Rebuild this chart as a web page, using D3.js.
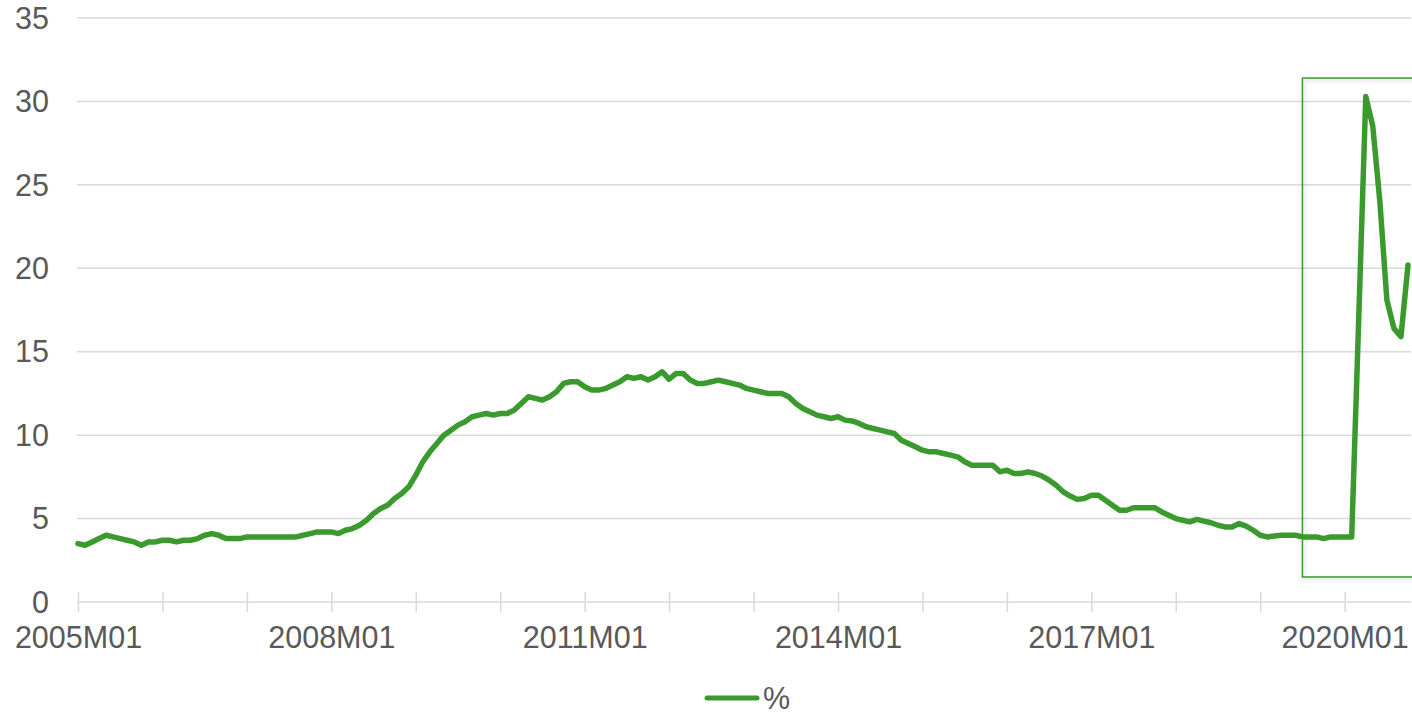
<!DOCTYPE html>
<html lang="en">
<head>
  <meta charset="UTF-8" />
  <title>Rate, 2005M01-2020M10</title>
  <script src="https://cdn.jsdelivr.net/npm/d3@7"></script>
  <style>
    html, body {
      margin: 0;
      padding: 0;
      background: #ffffff;
      overflow: hidden;
    }
    svg {
      display: block;
      font-family: "Liberation Sans", Arial, sans-serif;
    }
  </style>
</head>
<body>
  <script>
    // monthly values, 2005M01 .. 2020M10
    const startYear = 2005;
    const rate = [
      // 2005
      3.5, 3.4, 3.6, 3.8, 4.0, 3.9, 3.8, 3.7, 3.6, 3.4, 3.6, 3.6,
      // 2006
      3.7, 3.7, 3.6, 3.7, 3.7, 3.8, 4.0, 4.1, 4.0, 3.8, 3.8, 3.8,
      // 2007
      3.9, 3.9, 3.9, 3.9, 3.9, 3.9, 3.9, 3.9, 4.0, 4.1, 4.2, 4.2,
      // 2008
      4.2, 4.1, 4.3, 4.4, 4.6, 4.9, 5.3, 5.6, 5.8, 6.2, 6.5, 6.9,
      // 2009
      7.6, 8.4, 9.0, 9.5, 10.0, 10.3, 10.6, 10.8, 11.1, 11.2, 11.3, 11.2,
      // 2010
      11.3, 11.3, 11.5, 11.9, 12.3, 12.2, 12.1, 12.3, 12.6, 13.1, 13.2, 13.2,
      // 2011
      12.9, 12.7, 12.7, 12.8, 13.0, 13.2, 13.5, 13.4, 13.5, 13.3, 13.5, 13.8,
      // 2012
      13.35, 13.7, 13.7, 13.3, 13.1, 13.1, 13.2, 13.3, 13.2, 13.1, 13.0, 12.8,
      // 2013
      12.7, 12.6, 12.5, 12.5, 12.5, 12.3, 11.9, 11.6, 11.4, 11.2, 11.1, 11.0,
      // 2014
      11.1, 10.9, 10.85, 10.7, 10.5, 10.4, 10.3, 10.2, 10.1, 9.7, 9.5, 9.3,
      // 2015
      9.1, 9.0, 9.0, 8.9, 8.8, 8.7, 8.4, 8.2, 8.2, 8.2, 8.2, 7.8,
      // 2016
      7.9, 7.7, 7.7, 7.8, 7.7, 7.55, 7.3, 7.0, 6.6, 6.35, 6.15, 6.2,
      // 2017
      6.4, 6.4, 6.1, 5.8, 5.5, 5.5, 5.65, 5.65, 5.65, 5.65, 5.4, 5.2,
      // 2018
      5.0, 4.9, 4.8, 4.95, 4.85, 4.75, 4.6, 4.5, 4.5, 4.7, 4.55, 4.3,
      // 2019
      4.0, 3.9, 3.95, 4.0, 4.0, 4.0, 3.9, 3.9, 3.9, 3.8, 3.9, 3.9,
      // 2020
      3.9, 3.9, 17.0, 30.3, 28.5, 24.0, 18.1, 16.4, 15.9, 20.2
    ];
    const months = rate.map((_, i) =>
      `${startYear + Math.floor(i / 12)}M${String(i % 12 + 1).padStart(2, "0")}`);

    const yTicks = [0, 5, 10, 15, 20, 25, 30, 35];
    const xTickLabels = ["2005M01", "2008M01", "2011M01", "2014M01", "2017M01", "2020M01"];
    const legendLabel = "%";

    // boxed period at the end of the series
    const boxFrom = "2019M07";
    const boxTop = 31.4;
    const boxBottom = 1.5;

    const width = 1412, height = 714;
    const green = "#3a9a2e";
    const grid = "#d9d9d9";
    const textColor = "#595959";
    const fontSize = 30.5;

    const svg = d3.select("body").append("svg")
      .attr("width", width)
      .attr("height", height);

    const x = d3.scaleLinear()
      .domain([0, rate.length - 1])
      .range([78, 1408]);
    const y = d3.scaleLinear()
      .domain([0, 35])
      .range([602, 18]);

    const gridLeft = 77, gridRight = 1411;

    // horizontal gridlines
    svg.append("g")
      .selectAll("line")
      .data(yTicks)
      .join("line")
        .attr("x1", gridLeft)
        .attr("x2", gridRight)
        .attr("y1", d => y(d))
        .attr("y2", d => y(d))
        .attr("stroke", grid)
        .attr("stroke-width", 1.5);

    // y labels
    svg.append("g")
      .selectAll("text")
      .data(yTicks)
      .join("text")
        .attr("x", 49)
        .attr("y", d => y(d))
        .attr("dy", "0.35em")
        .attr("text-anchor", "end")
        .attr("fill", textColor)
        .attr("font-size", fontSize)
        .text(d => d);

    // x axis: a tick each year, a label every third year
    const yearTicks = d3.range(0, rate.length, 12);
    const xAxis = d3.axisBottom(x)
      .tickValues(yearTicks)
      .tickSize(10)
      .tickFormat(i => xTickLabels.includes(months[i]) ? months[i] : "");

    const gx = svg.append("g")
      .attr("transform", `translate(0,${y(0)})`)
      .call(xAxis);
    gx.select(".domain").remove();
    gx.selectAll(".tick line")
      .attr("y1", -10)
      .attr("y2", 10)
      .attr("stroke", grid)
      .attr("stroke-width", 1.5);
    gx.selectAll(".tick text")
      .attr("y", 24)
      .attr("fill", textColor)
      .attr("font-size", fontSize)
      .attr("font-family", "\"Liberation Sans\", Arial, sans-serif");

    // highlight box with a soft shadow
    const defs = svg.append("defs");
    const shadow = defs.append("filter")
      .attr("id", "box-shadow")
      .attr("x", "-5%").attr("y", "-5%")
      .attr("width", "110%").attr("height", "110%");
    shadow.append("feDropShadow")
      .attr("dx", 1).attr("dy", 2)
      .attr("stdDeviation", 2)
      .attr("flood-color", "#000")
      .attr("flood-opacity", 0.2);

    const bx = x(months.indexOf(boxFrom));
    svg.append("rect")
      .attr("x", bx)
      .attr("y", y(boxTop))
      .attr("width", x(rate.length + 3) - bx)
      .attr("height", y(boxBottom) - y(boxTop))
      .attr("fill", "none")
      .attr("stroke", green)
      .attr("stroke-width", 1.5)
      .attr("filter", "url(#box-shadow)");

    // series line
    const line = d3.line()
      .x((d, i) => x(i))
      .y(d => y(d));

    svg.append("path")
      .datum(rate)
      .attr("d", line)
      .attr("fill", "none")
      .attr("stroke", green)
      .attr("stroke-width", 5.5)
      .attr("stroke-linejoin", "round")
      .attr("stroke-linecap", "round");

    // legend
    const legend = svg.append("g")
      .attr("transform", "translate(707,698)");
    legend.append("line")
      .attr("x1", 0).attr("x2", 50)
      .attr("stroke", green)
      .attr("stroke-width", 5)
      .attr("stroke-linecap", "round");
    legend.append("text")
      .attr("x", 56)
      .attr("dy", "0.35em")
      .attr("fill", textColor)
      .attr("font-size", fontSize)
      .text(legendLabel);
  </script>
</body>
</html>
